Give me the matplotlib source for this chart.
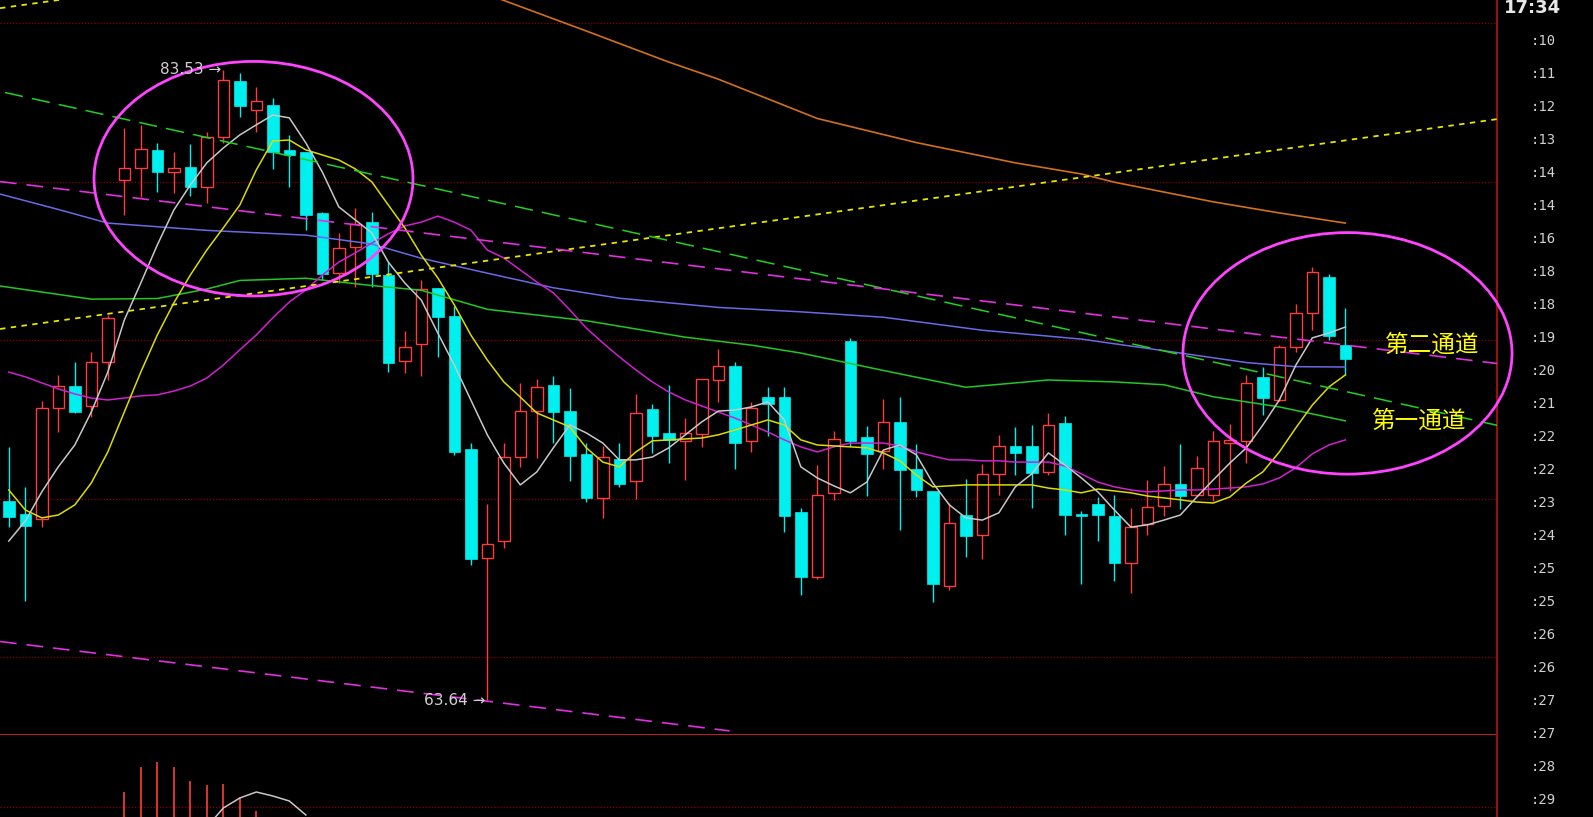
import numpy as np
import matplotlib.pyplot as plt
from matplotlib.patches import Rectangle, Ellipse

plt.rcParams['font.family'] = ['DejaVu Sans', 'Noto Sans CJK SC']

# K线数据 (开, 高, 低, 收)
opens = [69.94, 69.51, 69.36, 72.86, 73.56, 72.93, 74.33, 80.06, 80.44, 81.01,
         80.31, 80.47, 79.84, 81.42, 83.18, 82.27, 82.43, 81.01, 80.94, 79.02,
         77.13, 77.95, 78.73, 77.06, 74.36, 74.89, 76.66, 75.77, 71.56, 68.13,
         68.68, 71.31, 72.78, 73.59, 72.78, 71.42, 70.02, 71.25, 70.57, 72.83,
         72.07, 71.84, 72.05, 73.75, 74.20, 71.84, 73.20, 73.20, 69.60, 67.55,
         70.20, 74.99, 71.96, 71.52, 72.44, 70.93, 70.26, 67.26, 69.49, 68.86,
         70.79, 71.67, 71.67, 70.86, 72.38, 69.51, 69.84, 69.46, 67.97, 69.21,
         69.78, 70.46, 70.12, 70.12, 71.75, 71.84, 73.86, 73.12, 74.78, 75.86,
         76.99, 74.85]
highs = [71.65, 70.37, 73.10, 73.91, 74.33, 74.64, 75.80, 81.70, 81.80, 81.23,
         80.94, 81.20, 81.57, 83.53, 83.44, 82.99, 82.65, 81.48, 80.94, 79.05,
         78.39, 79.18, 79.05, 77.47, 75.30, 76.91, 76.66, 76.09, 71.77, 69.84,
         71.77, 73.67, 73.77, 73.88, 73.49, 71.75, 71.67, 71.75, 73.30, 72.99,
         73.59, 72.54, 73.77, 74.72, 74.33, 73.07, 73.54, 73.54, 69.70, 71.07,
         72.15, 75.07, 72.30, 73.15, 73.22, 71.72, 70.26, 69.86, 70.63, 71.10,
         72.02, 72.26, 72.33, 72.70, 72.62, 69.63, 70.05, 70.12, 69.70, 70.60,
         71.04, 71.73, 71.35, 72.15, 72.36, 73.91, 74.17, 74.85, 76.15, 77.32,
         77.09, 76.01]
lows = [69.10, 66.79, 69.10, 72.12, 72.70, 72.59, 73.75, 78.96, 79.52, 79.68,
        79.65, 79.56, 79.33, 81.23, 82.05, 81.57, 80.41, 79.84, 78.48, 76.91,
        76.81, 76.68, 76.68, 74.01, 73.96, 73.88, 74.49, 71.38, 67.91, 63.64,
        68.44, 71.00, 71.28, 71.75, 70.57, 69.89, 69.39, 70.37, 69.99, 71.44,
        71.12, 70.60, 71.65, 73.07, 70.93, 71.47, 71.98, 68.97, 66.97, 67.46,
        69.97, 71.67, 70.09, 70.93, 69.02, 70.05, 66.74, 67.13, 68.18, 68.09,
        70.12, 70.75, 69.70, 70.75, 68.86, 67.31, 68.68, 67.42, 67.04, 68.86,
        69.46, 69.67, 70.12, 69.94, 70.26, 71.12, 72.65, 73.10, 74.64, 75.33,
        75.01, 73.91]
closes = [69.44, 69.15, 72.86, 73.56, 72.75, 74.33, 75.70, 80.44, 81.04, 80.31,
          80.44, 79.84, 81.42, 83.21, 82.39, 82.55, 80.94, 80.85, 78.96, 77.09,
          77.92, 78.67, 77.09, 74.30, 74.80, 76.61, 75.73, 71.49, 68.09, 68.57,
          71.31, 72.77, 73.54, 72.73, 71.36, 70.02, 71.31, 70.47, 72.72, 71.98,
          71.86, 72.09, 73.77, 74.19, 71.75, 72.86, 72.99, 69.47, 67.53, 70.12,
          71.88, 71.84, 71.42, 72.44, 70.91, 70.28, 67.32, 69.25, 68.83, 70.79,
          71.67, 71.46, 70.81, 72.33, 69.49, 69.47, 69.49, 67.97, 69.12, 69.74,
          70.46, 70.09, 70.97, 71.84, 71.86, 73.67, 73.17, 74.80, 75.86, 77.17,
          75.14, 74.41]

# 均线
ma5 = [68.67, 69.30, 70.22, 71.01, 71.70, 72.74, 74.00, 75.64, 76.81, 78.01,
       79.11, 79.90, 80.60, 81.07, 81.48, 81.80, 82.11, 82.02, 81.23, 80.31,
       79.21, 78.80, 78.39, 77.47, 76.81, 76.27, 75.23, 74.22, 73.12, 72.02,
       71.13, 70.44, 70.85, 71.61, 72.33, 72.08, 71.76, 71.23, 71.23, 71.32,
       71.61, 72.02, 72.43, 72.77, 72.80, 72.90, 73.06, 72.49, 71.01, 70.66,
       70.41, 70.19, 70.53, 71.54, 71.70, 71.39, 70.50, 69.81, 69.40, 69.33,
       69.56, 70.38, 70.79, 71.45, 71.07, 70.66, 70.22, 69.65, 69.11, 69.18,
       69.33, 69.49, 70.06, 70.60, 71.13, 71.61, 72.33, 73.12, 74.22, 75.08,
       75.23, 75.42]
ma10 = [70.28, 69.65, 69.40, 69.49, 69.81, 70.50, 71.48, 72.74, 74.00, 75.17,
        76.18, 77.06, 77.85, 78.55, 79.27, 80.38, 81.29, 81.32, 81.01, 80.85,
        80.69, 80.41, 80.00, 79.27, 78.55, 77.69, 76.97, 76.12, 75.17, 74.38,
        73.69, 73.21, 72.71, 72.49, 72.27, 71.61, 71.16, 71.01, 71.48, 71.83,
        71.86, 71.89, 71.92, 72.02, 72.17, 72.33, 72.49, 72.33, 71.86, 71.70,
        71.67, 71.64, 71.61, 71.45, 71.20, 70.75, 70.38, 70.41, 70.44, 70.44,
        70.44, 70.44, 70.44, 70.34, 70.28, 70.19, 70.31, 70.25, 70.19, 70.09,
        70.03, 69.97, 69.90, 69.87, 70.06, 70.50, 70.85, 71.48, 72.24, 72.96,
        73.53, 73.91]
ma20 = [74.00, 73.85, 73.66, 73.47, 73.31, 73.18, 73.12, 73.18, 73.25, 73.28,
        73.40, 73.56, 73.81, 74.22, 74.70, 75.17, 75.71, 76.21, 76.59, 77.06,
        77.47, 77.76, 78.07, 78.36, 78.61, 78.73, 78.92, 78.73, 78.48, 77.85,
        77.60, 77.22, 76.84, 76.50, 75.96, 75.39, 74.92, 74.48, 74.07, 73.69,
        73.37, 73.12, 72.93, 72.74, 72.55, 72.33, 72.11, 71.86, 71.64, 71.48,
        71.64, 71.76, 71.76, 71.76, 71.67, 71.48, 71.35, 71.23, 71.23, 71.20,
        71.20, 71.16, 71.16, 71.16, 71.04, 70.79, 70.53, 70.38, 70.28, 70.22,
        70.25, 70.28, 70.28, 70.31, 70.34, 70.38, 70.47, 70.66, 70.98, 71.42,
        71.70, 71.86]
# 长期均线 (节点)
ma60_idx = [-1, 5, 9, 12, 14, 18, 22, 25, 29, 35, 41, 45, 48, 53, 58, 63, 67, 70, 73, 77, 81]
ma60 = [76.75, 76.30, 76.32, 76.62, 76.89, 76.96, 76.73, 76.58, 75.98, 75.62, 75.10,
        74.85, 74.60, 74.05, 73.52, 73.75, 73.69, 73.60, 73.22, 72.90, 72.46]
ma120_idx = [-1, 3, 6, 12, 18, 22, 25, 29, 33, 37, 43, 48, 53, 59, 65, 71, 75, 78, 81]
ma120 = [79.68, 79.13, 78.70, 78.47, 78.32, 78.04, 77.59, 77.12, 76.66, 76.33,
         76.04, 75.90, 75.73, 75.32, 75.04, 74.60, 74.30, 74.17, 74.16]
ma250_idx = [28, 35, 40, 43, 49, 55, 61, 65, 67, 73, 77, 81]
ma250 = [86.11, 84.76, 83.78, 83.24, 82.00, 81.24, 80.60, 80.25, 79.99, 79.37, 79.02, 78.70]

# 画线 (起点, 终点)
line_x = [-0.53, 90.2]
yellow_top = [85.48, 92.10]
yellow_low = [75.36, 81.98]
green_x = [-0.23, 90.2]
green_ch = [82.82, 72.32]
pink_top = [80.01, 74.27]
pink_low_x = [-0.53, 43.68]
pink_low = [65.50, 62.68]

# 成交量
vol = [28000, 31000, 35000, 30000, 26000, 29000, 33000, 65000, 90000, 95000,
       90000, 76000, 72000, 73000, 60000, 46000, 38000, 34000, 36000, 30000,
       27000, 25000, 29000, 33000, 24000, 28000, 22000, 31000, 37000, 39000,
       34000, 30000, 26000, 24000, 25000, 23000, 22000, 21000, 26000, 20000,
       19000, 18000, 22000, 24000, 27000, 21000, 20000, 23000, 25000, 26000,
       22000, 30000, 21000, 19000, 22000, 24000, 18000, 17000, 25000, 23000,
       21000, 20000, 18000, 19000, 22000, 20000, 17000, 18000, 21000, 19000,
       22000, 24000, 20000, 26000, 28000, 25000, 31000, 33000, 36000, 38000,
       35000, 30000]
vol_ma_idx = [12, 13, 14, 15, 16, 17, 18]
vol_ma = [30000, 49000, 59000, 65000, 61000, 56000, 42000]

right_labels = [':10', ':11', ':12', ':13', ':14', ':14', ':16', ':18', ':18', ':19',
                ':20', ':21', ':22', ':22', ':23', ':24', ':25', ':25', ':26', ':26',
                ':27', ':27', ':28', ':29']
grid_prices = [85, 80, 75, 70, 65]

RED = '#ff3c3c'
CYAN = '#00f0f0'
W, H = 1593, 817

fig = plt.figure(figsize=(15.93, 8.17), dpi=100, facecolor='black')
ax = fig.add_axes([0, 82 / H, 1497 / W, 735 / H], facecolor='black')
axv = fig.add_axes([0, 0, 1497 / W, 82 / H], facecolor='black')

for a in (ax, axv):
    a.set_xlim(-0.533, 90.19)
    a.set_xticks([])
    a.set_yticks([])
    for s in a.spines.values():
        s.set_visible(False)
    a.spines['right'].set_visible(True)
    a.spines['right'].set_color('#a01010')
    a.spines['right'].set_linewidth(1.4)
ax.spines['bottom'].set_visible(True)
ax.spines['bottom'].set_color('#c81c1c')
ax.spines['bottom'].set_linewidth(1.4)
ax.set_ylim(62.55, 85.738)

for g in grid_prices:
    ax.axhline(g, color='#8b0000', ls=(0, (1, 1.5)), lw=0.9, zorder=0)

# K线
x = np.arange(len(opens))
bw = 0.7
for i in x:
    o, h, l, c = opens[i], highs[i], lows[i], closes[i]
    top, bot = max(o, c), min(o, c)
    if c >= o:
        ax.vlines(i, top, h, color=RED, lw=1.0, zorder=2)
        ax.vlines(i, l, bot, color=RED, lw=1.0, zorder=2)
        ax.add_patch(Rectangle((i - bw / 2, bot), bw, max(top - bot, 0.03),
                               facecolor='black', edgecolor=RED, lw=1.0, zorder=3))
    else:
        ax.vlines(i, l, h, color=CYAN, lw=1.0, zorder=2)
        ax.add_patch(Rectangle((i - bw / 2, bot), bw, max(top - bot, 0.04),
                               facecolor=CYAN, edgecolor=CYAN, lw=0.5, zorder=3))

# 均线
ax.plot(ma250_idx, ma250, color='#d2711a', lw=1.2, zorder=4)
ax.plot(ma120_idx, ma120, color='#6a6ae6', lw=1.1, zorder=4)
ax.plot(ma60_idx, ma60, color='#22c822', lw=1.1, zorder=4)
ax.plot(x, ma20, color='#d020d0', lw=1.1, zorder=4)
ax.plot(x, ma10, color='#dcdc00', lw=1.1, zorder=4)
ax.plot(x, ma5, color='#c8c8c8', lw=1.1, zorder=4)

# 通道线
ax.plot(line_x, yellow_top, color='#e6e600', lw=1.3, dashes=(3, 3), zorder=5)
ax.plot(line_x, yellow_low, color='#e6e600', lw=1.3, dashes=(3, 3), zorder=5)
ax.plot(green_x, green_ch, color='#22d022', lw=1.1, dashes=(12, 6), zorder=5)
ax.plot(line_x, pink_top, color='#e030e0', lw=1.2, dashes=(10, 6), zorder=5)
ax.plot(pink_low_x, pink_low, color='#e030e0', lw=1.2, dashes=(10, 6), zorder=5)

# 圈
ax.add_patch(Ellipse((14.83, 80.10), 19.33, 7.40, fill=False, edgecolor='#ff44ff',
                     lw=2.0, zorder=6, clip_on=False))
ax.add_patch(Ellipse((81.13, 74.59), 19.94, 7.62, fill=False, edgecolor='#ff44ff',
                     lw=2.0, zorder=6, clip_on=False))

# 标注
ax.text(13 - 0.1, highs[13], '83.53 →', ha='right', va='center', color='#d0d0d0',
        fontsize=11, zorder=7)
ax.text(29 - 0.1, lows[29], '63.64 →', ha='right', va='center', color='#d0d0d0',
        fontsize=11, zorder=7)
ax.text(86.25, 74.86, '第二通道', ha='center', va='center', color='#ffff00',
        fontsize=17, family=['Noto Sans CJK SC', 'DejaVu Sans'], zorder=7, clip_on=False)
ax.text(85.47, 72.46, '第一通道', ha='center', va='center', color='#ffff00',
        fontsize=17, family=['Noto Sans CJK SC', 'DejaVu Sans'], zorder=7, clip_on=False)

# 成交量
axv.set_ylim(40000, 122000)
axv.axhline(50000, color='#8b0000', ls=(0, (1, 1.5)), lw=0.9, zorder=0)
axv.vlines(x, 0, vol, color=RED, lw=1.2, zorder=2)
axv.plot(vol_ma_idx, vol_ma, color='#c8c8c8', lw=1.1, zorder=3)

# 右侧刻度
for k, lab in enumerate(right_labels):
    fig.text(1543 / W, 1 - (40.7 + 33 * k) / H, lab, ha='center', va='center',
             color='#d0d0d0', fontsize=10, family='DejaVu Sans Mono')
fig.text(1532 / W, 1 - 8 / H, '17:34', ha='center', va='center', color='#e8e8e8',
         fontsize=13, fontweight='bold')

fig.savefig('out.png', dpi=100, facecolor='black')
